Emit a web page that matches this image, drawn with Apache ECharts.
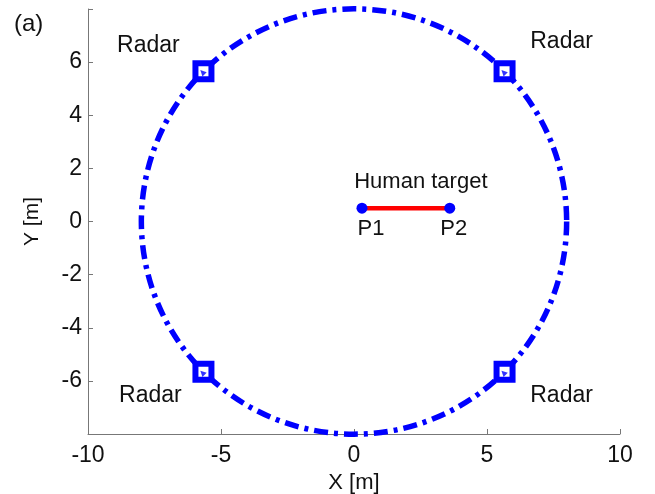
<!DOCTYPE html>
<html><head><meta charset="utf-8">
<script src="https://cdn.jsdelivr.net/npm/echarts@6/dist/echarts.min.js"></script>
<style>html,body{margin:0;padding:0;background:#fff}#c{width:655px;height:494px}</style>
</head><body><div id="c"></div>
<script>
// data
const circle = [[0, 0, 8]];               // center x, center y, radius (m)
const radars = [[-5.66, 5.66], [5.66, 5.66], [-5.66, -5.66], [5.66, -5.66]];
const radarLabel = 'Radar';
const targetP1 = [0.3, 0.5];
const targetP2 = [3.6, 0.5];
const targetLabel = 'Human target';
const pointNames = ['P1', 'P2'];
const xTicks = [-10, -5, 0, 5, 10];
const yTicks = [-6, -4, -2, 0, 2, 4, 6];

const FONT = 'Liberation Sans, Arial, sans-serif';
const BLUE = '#0000ff';
const chart = echarts.init(document.getElementById('c'));
const radarOffsets = [[-55, -26], [57, -30], [-53, 24], [57, 24]];
const pointLabelOffsets = [[9, 0], [4, 0]];

chart.setOption({
  animation: false,
  grid: { left: 88, right: 35, top: 9, bottom: 60, containLabel: false, outerBoundsMode: 'none' },
  xAxis: {
    type: 'value', min: -10, max: 10, interval: 5,
    name: 'X [m]', nameLocation: 'middle', nameGap: 38, nameMoveOverlap: false,
    nameTextStyle: { fontFamily: FONT, fontSize: 22, color: '#111' },
    axisLine: { onZero: false, lineStyle: { color: '#777', width: 1 } },
    axisTick: { inside: true, length: 5, lineStyle: { color: '#777' } },
    axisLabel: { fontFamily: FONT, fontSize: 23, color: '#111', margin: 10,
      formatter: v => (xTicks.indexOf(v) >= 0 ? String(v) : '') },
    splitLine: { show: false }
  },
  yAxis: {
    type: 'value', min: -8, max: 8, interval: 2,
    name: 'Y [m]', nameLocation: 'middle', nameGap: 45, nameRotate: 90,
    nameTextStyle: { fontFamily: FONT, fontSize: 21, color: '#111' },
    axisLine: { onZero: false, lineStyle: { color: '#777', width: 1 } },
    axisTick: { inside: true, length: 5, lineStyle: { color: '#777' } },
    axisLabel: { fontFamily: FONT, fontSize: 23, color: '#111', margin: 6,
      formatter: v => (yTicks.indexOf(v) >= 0 ? String(v) : '') },
    splitLine: { show: false }
  },
  graphic: [{ type: 'text', left: 14, top: 12, style: { text: '(a)', font: '24px ' + FONT, fill: '#111' } }],
  series: [
    {
      type: 'custom', data: circle, clip: false, z: 2,
      encode: { x: 0, y: 1 },
      renderItem: function (params, api) {
        const c = api.coord([api.value(0), api.value(1)]);
        const s = api.size([api.value(2), api.value(2)]);
        return { type: 'circle', shape: { cx: c[0], cy: c[1], r: (s[0] + s[1]) / 2 },
          style: { fill: 'none', stroke: BLUE, lineWidth: 5.5, lineDash: [14, 6, 4, 6] } };
      }
    },
    {
      type: 'scatter', data: radars.map((p, i) => ({ value: p, label: { offset: radarOffsets[i] } })),
      symbol: 'rect', symbolSize: 16, z: 3,
      itemStyle: { color: '#fff', borderColor: BLUE, borderWidth: 6, opacity: 1 },
      label: { show: true, position: 'inside', formatter: radarLabel, fontFamily: FONT, fontSize: 23, color: '#111' }
    },
    {
      type: 'scatter', data: radars, symbol: 'triangle', symbolSize: 6, symbolRotate: 45, symbolOffset: [-1, 1], z: 4,
      itemStyle: { color: BLUE }
    },
    {
      type: 'line', z: 5,
      data: [targetP1, targetP2].map((p, i) => ({ value: p, label: { offset: pointLabelOffsets[i] } })),
      lineStyle: { color: '#ff0000', width: 4.5 },
      symbol: 'circle', symbolSize: 11, showSymbol: true,
      itemStyle: { color: BLUE },
      label: { show: true, position: 'bottom', distance: 4, fontFamily: FONT, fontSize: 22, color: '#111',
        formatter: p => pointNames[p.dataIndex] },
      markPoint: {
        symbol: 'circle', symbolSize: 0,
        data: [{ coord: [(targetP1[0] + targetP2[0]) / 2, targetP1[1]] }],
        label: { show: true, formatter: targetLabel, offset: [15, -26], fontFamily: FONT, fontSize: 22, color: '#111' }
      }
    }
  ]
});
</script></body></html>
